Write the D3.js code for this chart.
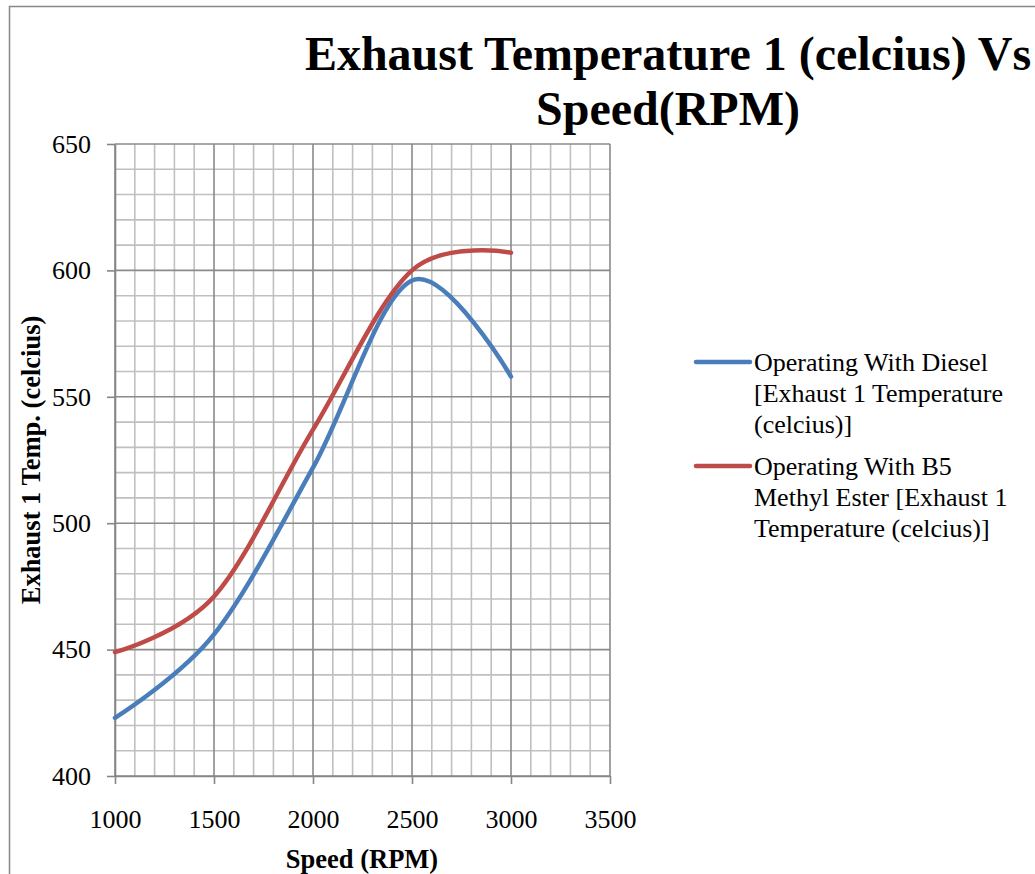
<!DOCTYPE html>
<html>
<head>
<meta charset="utf-8">
<script src="https://cdn.jsdelivr.net/npm/d3@7"></script>
<style>
  html, body { margin: 0; padding: 0; background: #fff; }
  svg { display: block; }
  text { font-family: "Liberation Serif", "Times New Roman", serif; fill: #000; }
</style>
</head>
<body>
<svg id="chart" width="1035" height="874"></svg>
<script>
// ---- data ----
const rpm = [1000, 1500, 2000, 2500, 3000];
const diesel = [423, 456, 522, 596, 558];
const b5 = [449, 471, 537, 600, 607];
const xTicks = [1000, 1500, 2000, 2500, 3000, 3500];
const yTicks = [400, 450, 500, 550, 600, 650];
const seriesNames = [
  ["Operating With Diesel", "[Exhaust 1 Temperature", "(celcius)]"],
  ["Operating With B5", "Methyl Ester [Exhaust 1", "Temperature (celcius)]"]
];
const seriesColors = ["#4a7ebb", "#be4b48"];
const titleLines = ["Exhaust Temperature 1 (celcius) Vs", "Speed(RPM)"];
const xTitle = "Speed (RPM)";
const yTitle = "Exhaust 1 Temp. (celcius)";

// ---- layout ----
const svg = d3.select("#chart");
const plot = { left: 115, right: 610, top: 144, bottom: 776 };
const x = d3.scaleLinear().domain([1000, 3500]).range([plot.left, plot.right]);
const y = d3.scaleLinear().domain([400, 650]).range([plot.bottom, plot.top]);

// outer border
svg.append("rect")
  .attr("x", 9.5).attr("y", 6.5).attr("width", 1200).attr("height", 1000)
  .attr("fill", "none").attr("stroke", "#878787").attr("stroke-width", 1.5);

// title
const title = svg.append("text")
  .attr("text-anchor", "middle")
  .style("font-size", "48px").style("font-weight", "bold");
titleLines.forEach((t, i) => {
  title.append("tspan").attr("x", 668).attr("y", 70 + i * 55).text(t);
});

// grid
const minorX = d3.range(1000, 3501, 100).filter(v => v % 500 !== 0);
const minorY = d3.range(400, 651, 10).filter(v => v % 50 !== 0);
const grid = svg.append("g");
grid.selectAll(".mx").data(minorX).join("line")
  .attr("x1", d => x(d)).attr("x2", d => x(d))
  .attr("y1", plot.top).attr("y2", plot.bottom)
  .attr("stroke", "#c0c0c0").attr("stroke-width", 1.6);
grid.selectAll(".my").data(minorY).join("line")
  .attr("x1", plot.left).attr("x2", plot.right)
  .attr("y1", d => y(d)).attr("y2", d => y(d))
  .attr("stroke", "#c0c0c0").attr("stroke-width", 1.6);
grid.selectAll(".Mx").data(xTicks).join("line")
  .attr("x1", d => x(d)).attr("x2", d => x(d))
  .attr("y1", plot.top).attr("y2", plot.bottom)
  .attr("stroke", "#8a8a8a").attr("stroke-width", 1.6);
grid.selectAll(".My").data(yTicks).join("line")
  .attr("x1", plot.left).attr("x2", plot.right)
  .attr("y1", d => y(d)).attr("y2", d => y(d))
  .attr("stroke", "#8a8a8a").attr("stroke-width", 1.6);

// axes
const xAxis = svg.append("g")
  .attr("transform", `translate(0,${plot.bottom})`)
  .call(d3.axisBottom(x).tickValues(xTicks).tickFormat(d3.format("d")).tickSize(8).tickSizeOuter(0).tickPadding(0));
xAxis.selectAll("text").attr("dy", null).attr("y", 52).style("font-size", "26px");
const yAxis = svg.append("g")
  .attr("transform", `translate(${plot.left},0)`)
  .call(d3.axisLeft(y).tickValues(yTicks).tickFormat(d3.format("d")).tickSize(8).tickSizeOuter(0).tickPadding(16));
yAxis.selectAll("text").style("font-size", "26px");
[xAxis, yAxis].forEach(a => {
  a.selectAll("path").attr("stroke", "#868686").attr("stroke-width", 1.6);
  a.selectAll("line").attr("stroke", "#868686").attr("stroke-width", 1.6);
  a.attr("font-family", null).attr("font-size", null);
});

// axis titles
svg.append("text")
  .attr("x", 362).attr("y", 868).attr("text-anchor", "middle")
  .style("font-size", "26.5px").style("font-weight", "bold").text(xTitle);
svg.append("text")
  .attr("transform", "translate(40,460) rotate(-90)").attr("text-anchor", "middle")
  .style("font-size", "26.5px").style("font-weight", "bold").text(yTitle);

// lines
const line = d3.line()
  .x(d => x(d[0])).y(d => y(d[1]))
  .curve(d3.curveCardinal.tension(0));
[diesel, b5].forEach((vals, i) => {
  svg.append("path")
    .datum(rpm.map((r, k) => [r, vals[k]]))
    .attr("d", line)
    .attr("fill", "none")
    .attr("stroke", seriesColors[i])
    .attr("stroke-width", 4.5)
    .attr("stroke-linecap", "round")
    .attr("stroke-linejoin", "round");
});

// legend
const legendY = [362, 466];
seriesNames.forEach((lines, i) => {
  const g = svg.append("g");
  g.append("line")
    .attr("x1", 696).attr("x2", 750)
    .attr("y1", legendY[i]).attr("y2", legendY[i])
    .attr("stroke", seriesColors[i]).attr("stroke-width", 4.5)
    .attr("stroke-linecap", "round");
  const t = g.append("text").style("font-size", "26px");
  lines.forEach((s, k) => {
    t.append("tspan").attr("x", 754).attr("y", legendY[i] + 9 + k * 31).text(s);
  });
});
</script>
</body>
</html>
